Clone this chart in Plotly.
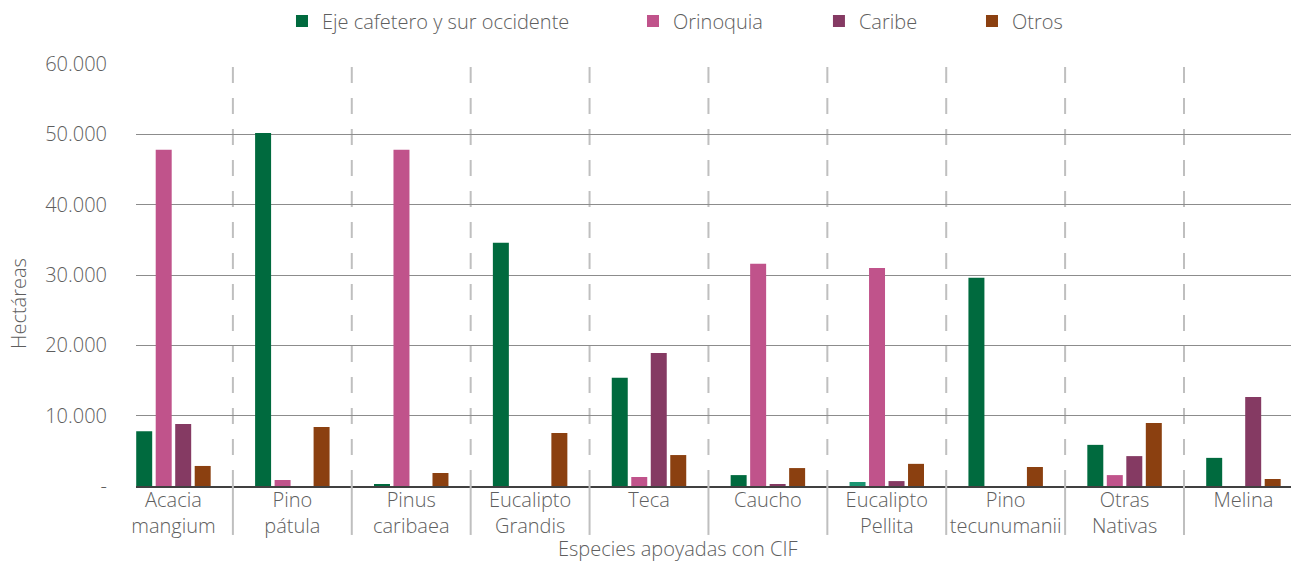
import plotly.graph_objects as go

categories = ["Acacia<br>mangium", "Pino<br>pátula", "Pinus<br>caribaea", "Eucalipto<br>Grandis",
              "Teca", "Caucho", "Eucalipto<br>Pellita", "Pino<br>tecunumanii", "Otras<br>Nativas", "Melina"]

eje_cafetero = [7800, 50200, 150, 34600, 15400, 1550, 570, 29600, 5850, 4000]
orinoquia = [47800, 850, 47800, None, 1280, 31600, 31000, None, 1550, None]
caribe = [8800, None, None, None, 18900, 280, 700, None, 4250, 12650]
otros = [2850, 8400, 1850, 7550, 4400, 2550, 3150, 2700, 8950, 1000]

series_names = ["Eje cafetero y sur occidente", "Orinoquia", "Caribe", "Otros"]
series_colors = ["#006A3E", "#C0538B", "#853A63", "#8B4010"]
eje_bar_colors = ["#006A3E"] * 6 + ["#1A9672"] + ["#006A3E"] * 3

y_tickvals = [0, 10000, 20000, 30000, 40000, 50000, 60000]
y_ticktext = ["-", "10.000", "20.000", "30.000", "40.000", "50.000", "60.000"]

FONT = "Open Sans"
W = 300
SIZE = 20
GRAY = "#5E5E5E"

fig = go.Figure()
all_series = [eje_cafetero, orinoquia, caribe, otros]
legend_names = ["legend", "legend2", "legend3", "legend4"]
for i, (name, vals, col) in enumerate(zip(series_names, all_series, series_colors)):
    mc = eje_bar_colors if i == 0 else col
    fig.add_trace(go.Bar(
        x=list(range(len(categories))), y=vals, name=name,
        marker=dict(color=mc, line=dict(width=0)),
        legend=legend_names[i],
    ))

# separators between categories
shapes = []
for k in range(len(categories) - 1):
    shapes.append(dict(type="line", xref="x", yref="paper", x0=k + 0.5, x1=k + 0.5,
                       y0=0, y1=1, line=dict(color="#BFBFBF", width=2, dash="16px,15px"), layer="below"))
    shapes.append(dict(type="line", xref="x", yref="paper", x0=k + 0.5, x1=k + 0.5,
                       y0=-0.116, y1=0, line=dict(color="#BFBFBF", width=2)))

legend_x = [0.1264, 0.4303, 0.5913, 0.7238]
legend_common = dict(orientation="h", yanchor="middle", y=1.1019, xanchor="left",
                     font=dict(family=FONT, size=SIZE, color=GRAY, weight=W), bgcolor="rgba(0,0,0,0)")
legends = {}
for ln, lx in zip(legend_names, legend_x):
    legends[ln] = dict(legend_common, x=lx)

fig.update_layout(
    width=1291, height=565,
    margin=dict(l=136, r=0, t=64, b=79),
    paper_bgcolor="white", plot_bgcolor="white",
    barmode="group", bargap=0.344, bargroupgap=0.18,
    font=dict(family=FONT, color=GRAY, weight=W),
    showlegend=True,
    shapes=shapes,
    xaxis=dict(
        tickmode="array", tickvals=list(range(len(categories))), ticktext=categories,
        range=[-0.315, 9.4], showgrid=False, showline=True, linecolor="#404040", linewidth=2,
        ticks="", tickfont=dict(family=FONT, size=SIZE, color=GRAY, weight=W), zeroline=False,
        ticklabelstandoff=-5,
    ),
    yaxis=dict(
        range=[0, 60000], tickvals=y_tickvals, ticktext=y_ticktext,
        showgrid=True, gridcolor="#8C8C8C", gridwidth=1.3, zeroline=False, showline=False,
        tickfont=dict(family=FONT, size=SIZE, color=GRAY, weight=W), ticklabelstandoff=28,
    ),
    annotations=[
        dict(text="Especies apoyadas con CIF", xref="paper", yref="paper",
             x=0.4693, y=-0.147, xanchor="center", yanchor="middle", showarrow=False,
             font=dict(family=FONT, size=SIZE, color=GRAY, weight=W)),
        dict(text="Hectáreas", xref="paper", yref="paper", textangle=-90,
             x=-0.1022, y=0.4336, xanchor="center", yanchor="middle", showarrow=False,
             font=dict(family=FONT, size=SIZE, color=GRAY, weight=W)),
    ],
    **legends,
)

fig.write_html("out.html", config={"displayModeBar": False},
               post_script="document.body.style.margin='0px';")
